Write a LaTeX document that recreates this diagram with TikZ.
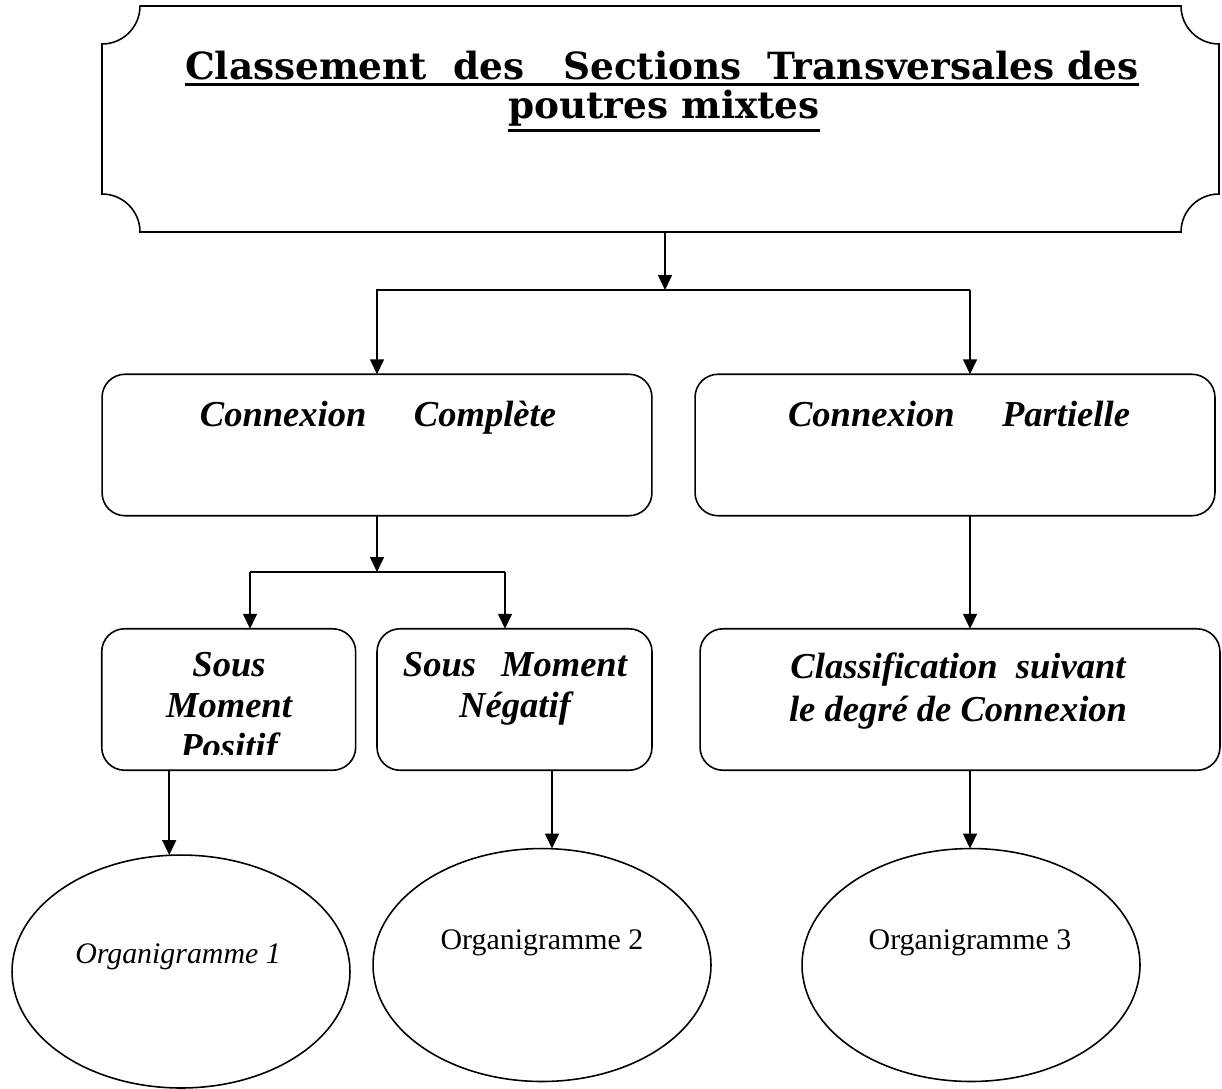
\documentclass[tikz,border=0pt]{standalone}
\usepackage{fontspec}
\setmainfont{Liberation Serif}
\newfontfamily\bannerfont{DejaVu Serif}
\usetikzlibrary{arrows.meta,shapes.geometric}

% thick underline that sits below the depth of the text
\newcommand{\thickul}[1]{\setbox0\hbox{#1}\leavevmode\rlap{\rule[-\dimexpr\dp0+3.7pt\relax]{\wd0}{1.7pt}}\box0}

\tikzset{
  link/.style={line width=0.9pt},
  arr/.style={line width=0.9pt, -{Triangle[length=0.3cm,width=0.28cm]}},
  box/.style={draw, line width=0.9pt, rounded corners=0.46cm, minimum height=2.83cm, inner sep=0pt, outer sep=0pt},
  oval/.style={draw, ellipse, line width=0.9pt, minimum width=6.76cm, minimum height=4.66cm, inner sep=0pt, outer sep=0pt},
  titletext/.style={font=\bannerfont\bfseries\fontsize{21.3}{26}\selectfont, inner sep=0pt},
  boxtext/.style={align=center, font=\fontsize{20.8}{23.3}\selectfont\bfseries\itshape},
  ovaltext/.style={font=\fontsize{17}{20}\selectfont}
}

\begin{document}
\begin{tikzpicture}[x=0.02cm, y=-0.02cm]
\useasboundingbox (0,0) rectangle (1222,1088);

% Draw the banner with the cut corners
\draw[link] (140,6) -- (1181,6)
  arc[start angle=180, end angle=270, radius=0.76cm] -- (1219,194)
  arc[start angle=90, end angle=180, radius=0.76cm] -- (140,232)
  arc[start angle=0, end angle=90, radius=0.76cm] -- (102,44)
  arc[start angle=270, end angle=360, radius=0.76cm] -- cycle;
\node[titletext, anchor=base] (title1) at (662,79) {\thickul{Classement\ \ des\ \ \ Sections\ \ Transversales des}};
\node[titletext, anchor=base] (title2) at (664,118) {\thickul{poutres mixtes}};
\coordinate (bannerbot) at (665,232);

% the two kinds of connexion
\node[box, minimum width=11cm] (cc) at (377,445) {};
\node[boxtext, anchor=base] (cctext) at (378,426) {Connexion\hspace{0.95cm}Complète};
\node[box, minimum width=10.4cm] (cp) at (955,445) {};
\node[boxtext, anchor=base] (cptext) at (959,426) {Connexion\hspace{0.95cm}Partielle};

% second row
\node[box, minimum width=5.08cm] (smp) at (228.7,699.5) {};
\begin{scope}
  \clip (102,629) rectangle (355,754);
  \node[boxtext] (smptext) at (229,709) {Sous\\Moment\\Positif};
\end{scope}
\node[box, minimum width=5.5cm] (smn) at (514.5,699.5) {};
\node[boxtext] (smntext) at (515,689) {Sous\hspace{0.5cm}Moment\\Négatif};
\node[box, minimum width=10.4cm] (cls) at (960,699.5) {};
\node[boxtext] (clstext) at (958,691) {Classification\ \ suivant\\[1pt]le degré de Connexion};

% the organigrammes
\node[oval] (e1) at (181,971.5) {};
\node[ovaltext, font=\fontsize{17}{20}\selectfont\itshape] (o1) at (178,957) {Organigramme 1};
\node[oval] (e2) at (542,965) {};
\node[ovaltext] (o2) at (542,943) {Organigramme 2};
\node[oval] (e3) at (971,965) {};
\node[ovaltext] (o3) at (970,943) {Organigramme 3};

% connectors
\coordinate (split1) at (665,290);
\coordinate (right) at (970,290);
\draw[arr] (bannerbot) -- (split1);
\draw[link] (split1) -- (right);
\draw[arr] (split1) -| (cc.north);
\draw[arr] (right) -- (right |- cp.north);

\coordinate (split2) at (377,572);
\coordinate (s2l) at (250,572);
\coordinate (s2r) at (505,572);
\draw[arr] (cc.south) -- (split2);
\draw[link] (s2l) -- (s2r);
\draw[arr] (s2l) -- (s2l |- smp.north);
\draw[arr] (s2r) -- (s2r |- smn.north);
\draw[arr] (right |- cp.south) -- (right |- cls.north);

\draw[arr] ([xshift=-1.19cm]smp.south) -- ([xshift=-1.19cm]smp.south |- e1.north);
\draw[arr] ([xshift=0.75cm]smn.south) -- ([xshift=0.75cm]smn.south |- e2.north);
\draw[arr] (right |- cls.south) -- (right |- e3.north);
\end{tikzpicture}
\end{document}
